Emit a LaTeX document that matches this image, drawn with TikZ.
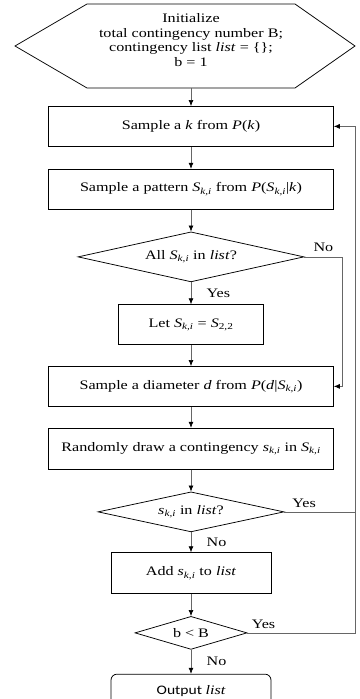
\documentclass[tikz,border=0pt]{standalone}
\usepackage{fontspec}
\setmainfont{Liberation Serif}[FakeStretch=1.24]
\newfontfamily\calibri{Carlito}[FakeStretch=1.2]
\usetikzlibrary{shapes,arrows.meta,positioning}

\newcommand{\Ski}{\textit{S}\textsubscript{\textit{k,i}}}
\newcommand{\ski}{\textit{s}\textsubscript{\textit{k,i}}}

\begin{document}
\begin{tikzpicture}[
    node distance=22pt,
    font=\fontsize{13pt}{14.4pt}\selectfont,
    box/.style={rectangle, draw, line width=0.75pt, minimum height=40pt, align=center, inner sep=2pt},
    widebox/.style={box, minimum width=285pt},
    decision/.style={diamond, draw, line width=0.75pt, inner sep=0pt, aspect=4},
    arrow/.style={-{Latex[length=6pt,width=5pt,color=black]}, draw=black!60, line width=0.65pt},
    loopline/.style={draw=black!60, line width=0.65pt}
]
\path[use as bounding box] (0,0) rectangle (359pt,-699pt);

% start
\node[align=center] (init) at (191pt,-40pt) {Initialize\\total contingency number B;\\contingency list \textit{list} = \{\};\\b = 1};
\draw[line width=0.75pt] ([shift={(-104pt,36pt)}]init.center) -- ([shift={(104pt,36pt)}]init.center)
    -- ([shift={(164pt,-6pt)}]init.center) -- ([shift={(104pt,-48pt)}]init.center)
    -- ([shift={(-104pt,-48pt)}]init.center) -- ([shift={(-176pt,-6pt)}]init.center) -- cycle;
\coordinate (initbot) at ([yshift=-48pt]init.center);

% main column
\node[widebox, below=18pt of initbot] (samplek) {Sample a \textit{k} from \textit{P}(\textit{k})};
\node[widebox, below=of samplek] (samplepat) {Sample a pattern \Ski{} from \textit{P}(\Ski|\textit{k})};
\node[decision, minimum width=226pt, minimum height=50pt, below=of samplepat] (allin) {All \Ski{} in \textit{list}?};
\node[box, minimum width=145pt, below=of allin] (letS) {Let \Ski{} = \textit{S}\textsubscript{2,2}};
\node[widebox, below=21pt of letS] (sampled) {Sample a diameter \textit{d} from \textit{P}(\textit{d}|\Ski)};
\node[widebox, minimum height=41pt, below=21pt of sampled] (drawc) {Randomly draw a contingency \ski{} in \Ski};
\node[decision, minimum width=186pt, minimum height=40pt, below=of drawc] (sin) {\ski{} in \textit{list}?};
\node[box, minimum width=160pt, minimum height=41pt, below=20pt of sin] (adds) {Add \ski{} to \textit{list}};
\node[decision, minimum width=112pt, minimum height=33pt, below=of adds] (bless) {b < B};
\node[box, rounded corners=6pt, minimum width=160pt, minimum height=34pt, below=24pt of bless,
    font=\fontsize{13pt}{14.4pt}\calibri] (output) {Output {\rmfamily\itshape list}};

\draw[arrow] (initbot) -- (samplek);
\draw[arrow] (samplek) -- (samplepat);
\draw[arrow] (samplepat) -- (allin);
\draw[arrow] (allin) -- node[right, xshift=12pt] {Yes} (letS);
\draw[arrow] (letS) -- (sampled);
\draw[arrow] (sampled) -- (drawc);
\draw[arrow] (drawc) -- (sin);
\draw[arrow] (sin) -- node[right, xshift=12pt] {No} (adds);
\draw[arrow] (adds) -- (bless);
\draw[arrow] (bless) -- node[right, xshift=12pt] {No} (output);

% loops back
\coordinate (loopx) at (355pt,0);
\draw[arrow] (allin.east) -- node[above, yshift=2pt] {No} ++(38pt,0) |- (sampled.east);
\draw[loopline] (sin.east) -- node[above, pos=0.28, yshift=1pt] {Yes} (sin.east -| loopx);
\draw[arrow] (bless.east) -- node[above, pos=0.15, yshift=1pt] {Yes} (bless.east -| loopx) |- (samplek.east);
\end{tikzpicture}
\end{document}
